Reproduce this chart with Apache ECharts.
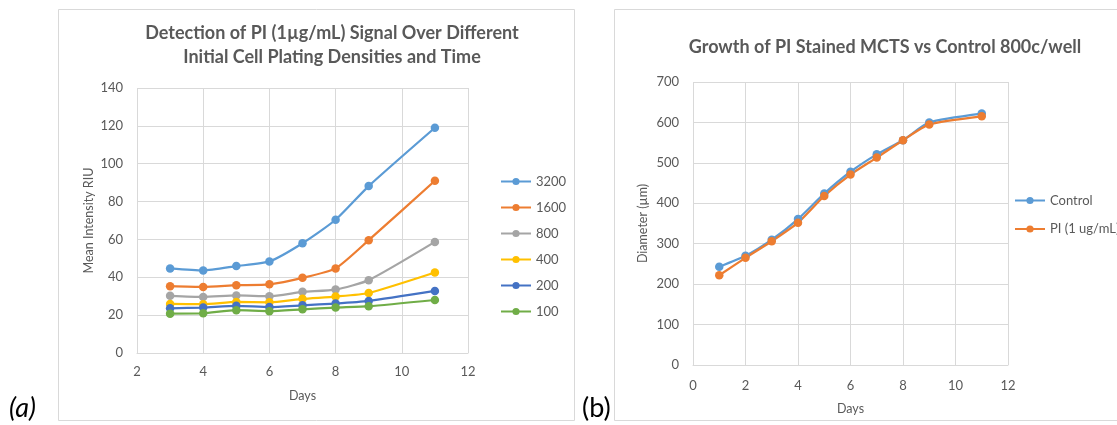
<!DOCTYPE html>
<html>
<head>
<meta charset="utf-8">
<script src="https://cdn.jsdelivr.net/npm/echarts@6/dist/echarts.min.js"></script>
<style>
html,body{margin:0;padding:0;background:#fff;}
#c{width:1117px;height:425px;}
</style>
</head>
<body>
<div id="c"></div>
<script>
// ---- Data: chart (a) ----
const daysA = [3, 4, 5, 6, 7, 8, 9, 11];
const densityNames = ['3200', '1600', '800', '400', '200', '100'];
const s3200 = [44.7, 43.6, 45.9, 48.4, 58.0, 70.4, 88.2, 119.0];
const s1600 = [35.3, 34.9, 35.8, 36.3, 39.7, 44.7, 59.6, 91.0];
const s800  = [30.2, 29.6, 30.4, 30.0, 32.3, 33.5, 38.5, 58.7];
const s400  = [25.9, 25.8, 27.0, 26.8, 28.6, 29.8, 31.7, 42.5];
const s200  = [23.6, 24.0, 24.9, 24.3, 25.2, 26.1, 27.5, 32.8];
const s100  = [20.8, 21.0, 22.6, 22.1, 23.1, 24.0, 24.7, 28.0];
// ---- Data: chart (b) ----
const daysB = [1, 2, 3, 4, 5, 6, 7, 8, 9, 11];
const bNames = ['Control', 'PI (1 ug/mL)'];
const control = [243, 270, 310, 361, 424, 478, 521, 556, 600, 622];
const piStained = [222, 265, 306, 352, 418, 471, 513, 556, 595, 615];

const colorsA = ['#5B9BD5', '#ED7D31', '#A5A5A5', '#FFC000', '#4472C4', '#70AD47'];
const colorsB = ['#5B9BD5', '#ED7D31'];
const FONT = 'Lato';
const TXT = '#595959';
const GRID = '#D9D9D9';

function pairs(xs, ys){ return xs.map((x,i)=>[x, ys[i]]); }
function lineSeries(name, data, color, xi, yi){
  return {
    name, type:'line', data, xAxisIndex:xi, yAxisIndex:yi,
    smooth:0.2, symbol:'circle', symbolSize:8.5,
    lineStyle:{color, width:2.25}, itemStyle:{color},
    emphasis:{disabled:true}, animation:false
  };
}
const axisText = {color:TXT, fontFamily:FONT, fontSize:13};

const chart = echarts.init(document.getElementById('c'), null, {renderer:'canvas'});
const seriesA = [s3200, s1600, s800, s400, s200, s100];
chart.setOption({
  animation:false,
  backgroundColor:'#fff',
  textStyle:{fontFamily:FONT},
  title:[
    {text:'Detection of PI (1µg/mL) Signal Over Different\nInitial Cell Plating Densities and Time',
     left:327, top:16, textAlign:'center',
     textStyle:{color:TXT, fontFamily:FONT, fontSize:18, fontWeight:'bold', lineHeight:24}},
    {text:'Growth of PI Stained MCTS vs Control 800c/well',
     left:880, top:33, textAlign:'center',
     textStyle:{color:TXT, fontFamily:FONT, fontSize:18, fontWeight:'bold'}}
  ],
  legend:[
    {data:densityNames, orient:'vertical', left:495, top:170, itemWidth:30, itemHeight:9, itemGap:13,
     textStyle:{color:TXT, fontFamily:FONT, fontSize:13}, selectedMode:false},
    {data:bNames, orient:'vertical', left:1009, top:189, itemWidth:30, itemHeight:9, itemGap:15.5,
     textStyle:{color:TXT, fontFamily:FONT, fontSize:13}, selectedMode:false}
  ],
  grid:[
    {left:137, top:88, width:331, height:265},
    {left:693, top:82, width:315, height:283}
  ],
  xAxis:[
    {type:'value', gridIndex:0, min:2, max:12, interval:2,
     name:'Days', nameLocation:'middle', nameGap:36, nameTextStyle:{color:TXT, fontFamily:FONT, fontSize:12.5},
     axisLine:{show:true, lineStyle:{color:GRID}}, axisTick:{show:false},
     axisLabel:Object.assign({margin:12}, axisText),
     splitLine:{show:true, lineStyle:{color:GRID}}},
    {type:'value', gridIndex:1, min:0, max:12, interval:2,
     name:'Days', nameLocation:'middle', nameGap:37, nameTextStyle:{color:TXT, fontFamily:FONT, fontSize:12.5},
     axisLine:{show:true, lineStyle:{color:GRID}}, axisTick:{show:false},
     axisLabel:Object.assign({margin:14}, axisText),
     splitLine:{show:true, lineStyle:{color:GRID}}}
  ],
  yAxis:[
    {type:'value', gridIndex:0, min:0, max:140, interval:20,
     name:'Mean Intensity RIU', nameLocation:'middle', nameGap:42, nameTextStyle:{color:TXT, fontFamily:FONT, fontSize:12.5},
     axisLine:{show:false}, axisTick:{show:false},
     axisLabel:Object.assign({margin:14}, axisText),
     splitLine:{show:true, lineStyle:{color:GRID}}},
    {type:'value', gridIndex:1, min:0, max:700, interval:100,
     name:'Diameter (µm)', nameLocation:'middle', nameGap:44, nameTextStyle:{color:TXT, fontFamily:FONT, fontSize:12.5},
     axisLine:{show:false}, axisTick:{show:false},
     axisLabel:Object.assign({margin:14}, axisText),
     splitLine:{show:true, lineStyle:{color:GRID}}}
  ],
  series:[
    ...seriesA.map((s,i)=>lineSeries(densityNames[i], pairs(daysA, s), colorsA[i], 0, 0)),
    lineSeries(bNames[0], pairs(daysB, control), colorsB[0], 1, 1),
    lineSeries(bNames[1], pairs(daysB, piStained), colorsB[1], 1, 1)
  ],
  graphic:[
    {type:'rect', shape:{x:58.5, y:9.5, width:516, height:411}, style:{fill:null, stroke:GRID, lineWidth:1}, silent:true, z:-1},
    {type:'rect', shape:{x:614.5, y:9.5, width:510, height:411}, style:{fill:null, stroke:GRID, lineWidth:1}, silent:true, z:-1},
    {type:'text', left:9, top:395, style:{text:'(a)', fill:'#000', font:'italic 27px Lato'}},
    {type:'text', left:582, top:395, style:{text:'(b)', fill:'#000', font:'27px Lato'}}
  ]
});
</script>
</body>
</html>
